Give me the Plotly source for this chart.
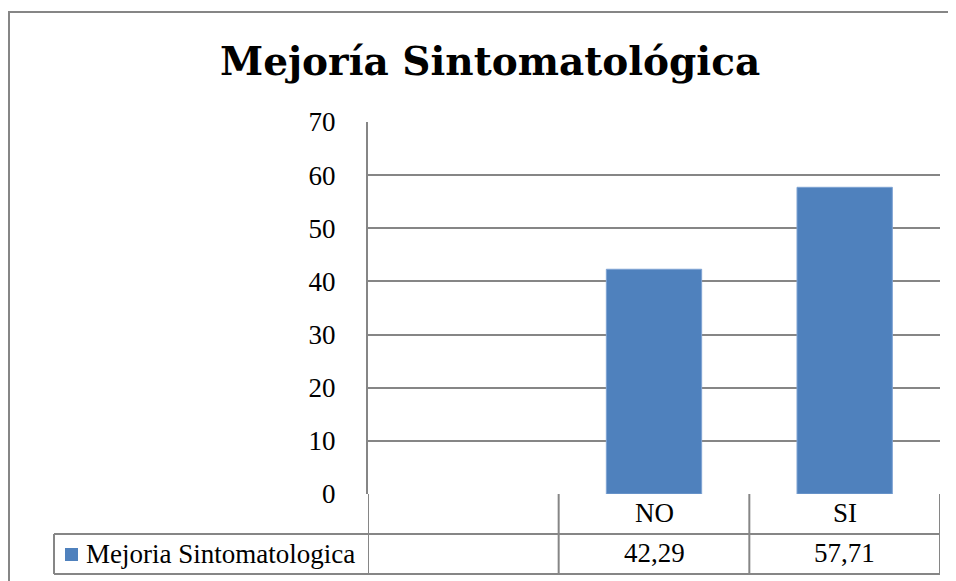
import plotly.graph_objects as go

# ---- data ----
TITLE = "Mejoría Sintomatológica"
SERIES_NAME = "Mejoria Sintomatologica"
CATEGORIES = ["", "NO", "SI"]
VALUES = [None, 42.29, 57.71]
VALUE_LABELS = ["", "42,29", "57,71"]
Y_TICKS = [0, 10, 20, 30, 40, 50, 60, 70]

# page body has an 8px margin; work in screen pixels and convert
OFF = 8
W, H = 948, 573
L, R, T, B = 360, 16, 114, 87
PW, PH = W - L - R, H - T - B


def px_x(p):  # screen pixel -> paper x
    return (p - OFF - L) / PW


def px_y(p):  # screen pixel -> paper y
    return (H - B - (p - OFF)) / PH


GRID = "#868686"
BAR = "#4F81BD"
FONT = "Liberation Serif"
TITLE_FONT = "DejaVu Serif"

idx = list(range(len(CATEGORIES)))

fig = go.Figure()
fig.add_trace(go.Bar(
    x=idx, y=VALUES, name=SERIES_NAME, width=0.5,
    marker=dict(color=BAR, line=dict(color="#7FA3D3", width=1)),
    showlegend=False,
))

shapes = []
line = dict(color=GRID, width=2)
row1 = px_y(534)
row2 = px_y(574)
leg_left = px_x(54)
# horizontal table lines
shapes.append(dict(type="line", xref="paper", yref="paper", x0=leg_left, x1=1, y0=row1, y1=row1, line=line))
shapes.append(dict(type="line", xref="paper", yref="paper", x0=leg_left, x1=1, y0=row2, y1=row2, line=line))
# vertical table lines at category boundaries
for b in [i - 0.5 for i in idx] + [len(idx) - 0.5]:
    shapes.append(dict(type="line", xref="x", yref="paper", x0=b, x1=b, y0=0, y1=row2, line=line))
shapes.append(dict(type="line", xref="paper", yref="paper", x0=leg_left, x1=leg_left, y0=row1, y1=row2, line=line))
# legend key square
shapes.append(dict(type="rect", xref="paper", yref="paper", x0=px_x(65), x1=px_x(78),
                   y0=px_y(561), y1=px_y(548), line=dict(width=0), fillcolor=BAR))
# outer chart frame (right and bottom edges fall outside the page)
shapes.append(dict(type="rect", xref="paper", yref="paper", x0=px_x(9), x1=px_x(1010),
                   y0=px_y(640), y1=px_y(12), line=dict(color=GRID, width=2), layer="below"))

annotations = [dict(text="<b>" + TITLE + "</b>", xref="paper", yref="paper",
                    x=px_x(490), y=px_y(61), xanchor="center", yanchor="middle",
                    showarrow=False, font=dict(family=TITLE_FONT, size=39, color="#000000"))]
for i, c, v in zip(idx, CATEGORIES, VALUE_LABELS):
    annotations.append(dict(text=c, xref="x", yref="paper", x=i, y=px_y(513),
                            xanchor="center", yanchor="middle",
                            showarrow=False, font=dict(family=FONT, size=27, color="#000000")))
    annotations.append(dict(text=v, xref="x", yref="paper", x=i, y=px_y(553),
                            xanchor="center", yanchor="middle",
                            showarrow=False, font=dict(family=FONT, size=27, color="#000000")))
annotations.append(dict(text=SERIES_NAME, xref="paper", yref="paper", x=px_x(84), y=px_y(554),
                        xanchor="left", yanchor="middle", showarrow=False,
                        font=dict(family=FONT, size=27, color="#000000")))

fig.update_layout(
    width=W, height=H,
    margin=dict(l=L, r=R, t=T, b=B, autoexpand=False),
    paper_bgcolor="white", plot_bgcolor="white",
    shapes=shapes, annotations=annotations,
    showlegend=False,
    bargap=0.5,
)
fig.update_xaxes(range=[-0.5, len(idx) - 0.5], showticklabels=False, showgrid=False,
                 zeroline=False, showline=False, ticks="")
fig.update_yaxes(range=[0, 70], tickvals=Y_TICKS, showgrid=True, gridcolor=GRID, gridwidth=2,
                 zeroline=False, showline=True, linecolor=GRID, linewidth=2, ticks="",
                 ticklabelstandoff=25,
                 tickfont=dict(family=FONT, size=27, color="#000000"))

fig.write_html("out.html")
